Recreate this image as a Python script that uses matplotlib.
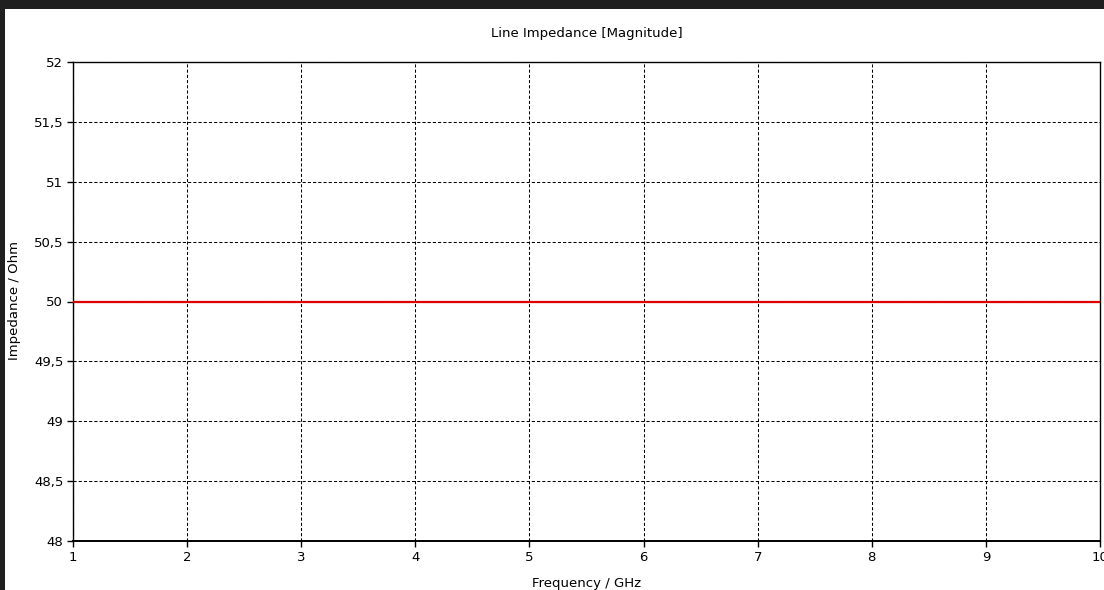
import matplotlib
matplotlib.use("Agg")
import matplotlib.pyplot as plt
from matplotlib.patches import Rectangle
from matplotlib.ticker import FuncFormatter, MultipleLocator

frequency_ghz = [1, 2, 3, 4, 5, 6, 7, 8, 9, 10]
impedance_ohm = [50, 50, 50, 50, 50, 50, 50, 50, 50, 50]
title = "Line Impedance [Magnitude]"
xlabel = "Frequency / GHz"
ylabel = "Impedance / Ohm"

W, H = 1104, 590
fig = plt.figure(figsize=(W / 100, H / 100), dpi=100, facecolor="#1f1f1f")
fig.patches.append(Rectangle((5 / W, 0), 1, 1 - 9 / H, transform=fig.transFigure,
                             facecolor="white", edgecolor="none", zorder=-10))

ax = fig.add_axes([73 / W, 1 - 541 / H, (1100 - 73) / W, (541 - 62) / H])
ax.plot(frequency_ghz, impedance_ohm, color="#e00000", lw=1.6, zorder=3)
ax.set_xlim(1, 10)
ax.set_ylim(48, 52)
ax.xaxis.set_major_locator(MultipleLocator(1))
ax.yaxis.set_major_locator(MultipleLocator(0.5))
fmt = FuncFormatter(lambda v, p: (f"{v:g}").replace(".", ","))
ax.xaxis.set_major_formatter(fmt)
ax.yaxis.set_major_formatter(fmt)
ax.grid(True, color="black", linestyle=(0, (3, 2)), linewidth=0.75)
ax.tick_params(direction="out", length=4, width=1, labelsize=9.5, colors="black", pad=3)
for s in ax.spines.values():
    s.set_linewidth(1.0)
    s.set_color("black")
ax.spines["bottom"].set_linewidth(1.4)

fig.text(586.5 / W, 1 - 33 / H, title, ha="center", va="center", fontsize=9.5)
fig.text(15 / W, 1 - 301 / H, ylabel, ha="center", va="center", rotation=90, fontsize=9.5)
fig.text(586.5 / W, 1 - 584 / H, xlabel, ha="center", va="center", fontsize=9.5)

fig.savefig("out.png", dpi=100, facecolor=fig.get_facecolor())
